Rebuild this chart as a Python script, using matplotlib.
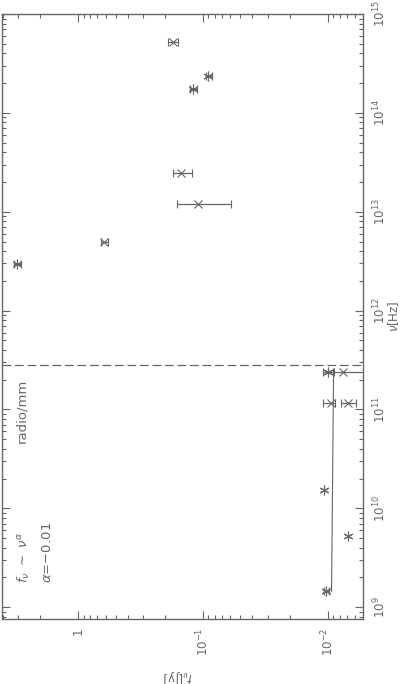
import matplotlib
matplotlib.use("Agg")
import matplotlib.pyplot as plt
from matplotlib.ticker import NullFormatter

# SED data: frequency [Hz] and flux density [Jy]
# points drawn with an "x" symbol (with flux errors)
nu_cross = [5.2e14, 2.45e13, 1.2e13, 5.0e12, 2.37e11, 1.17e11, 1.17e11]
flux_cross = [0.174, 0.150, 0.110, 0.62, 0.00759, 0.00946, 0.00692]
flux_cross_hi = [0.190, 0.174, 0.161, 0.655, 0.00895, 0.01096, 0.00787]
flux_cross_lo = [0.158, 0.1225, 0.0597, 0.575, 0.004, 0.00879, 0.00597]

# points drawn with an asterisk (with flux errors)
nu_star = [2.37e14, 1.75e14, 2.99e12, 2.37e11, 1.45e9]
flux_star = [0.091, 0.120, 3.08, 0.0100, 0.0102]
flux_star_hi = [0.0946, 0.127, 3.25, 0.01096, 0.0106]
flux_star_lo = [0.0847, 0.112, 2.86, 0.00912, 0.0098]

# asterisks without visible errors
nu_star_noerr = [1.55e10, 5.2e9]
flux_star_noerr = [0.01076, 0.00692]

# radio power-law fit f_nu ~ nu^alpha (end points)
fit_nu = [1.45e9, 2.37e11]
fit_flux = [0.00929, 0.00895]

nu_break = 2.85e11  # radio/mm boundary

flux_ticks = [1, 0.1, 0.01]
flux_labels = ['1', r'$10^{-1}$', r'$10^{-2}$']
nu_ticks = [1e9, 1e10, 1e11, 1e12, 1e13, 1e14, 1e15]
nu_labels = [r'$10^{9}$', r'$10^{10}$', r'$10^{11}$', r'$10^{12}$',
             r'$10^{13}$', r'$10^{14}$', r'$10^{15}$']

col = '#666666'
plt.rcParams['font.family'] = ['DejaVu Sans']
plt.rcParams['mathtext.fontset'] = 'dejavusans'

fig = plt.figure(figsize=(4.02, 6.84), dpi=100)
ax = fig.add_axes([0.005, 0.095, 0.898, 0.8845])

# error bars + markers (plot is rotated: flux horizontal, frequency vertical)
xerr = [[f - lo for f, lo in zip(flux_cross, flux_cross_lo)],
        [hi - f for f, hi in zip(flux_cross, flux_cross_hi)]]
ax.errorbar(flux_cross, nu_cross, xerr=xerr, fmt='x', color=col, ms=6,
            mew=0.8, elinewidth=0.9, capsize=2.8, capthick=0.9)

xerr = [[f - lo for f, lo in zip(flux_star, flux_star_lo)],
        [hi - f for f, hi in zip(flux_star, flux_star_hi)]]
ax.errorbar(flux_star, nu_star, xerr=xerr, fmt='none', ecolor=col,
            elinewidth=0.9, capsize=2.8, capthick=0.9)
ax.plot(flux_star, nu_star, ls='none', marker=(6, 2, 0), ms=7, mew=0.8,
        color=col)
ax.plot(flux_star_noerr, nu_star_noerr, ls='none', marker=(6, 2, 0), ms=7,
        mew=0.8, color=col)

ax.plot(fit_flux, fit_nu, color=col, lw=0.8)
ax.axhline(nu_break, color=col, lw=0.9, ls=(0, (7, 3)))

ax.set_xscale('log')
ax.set_yscale('log')
ax.set_xlim(4.06, 5.2e-3)
ax.set_ylim(7.6e8, 1e15)

ax.set_xticks(flux_ticks, flux_labels, rotation=90, fontsize=8.5, color=col)
ax.set_yticks(nu_ticks, nu_labels, rotation=90, fontsize=8.5, color=col,
              va='center')
ax.xaxis.set_minor_formatter(NullFormatter())
ax.yaxis.set_minor_formatter(NullFormatter())

ax.tick_params(which='both', direction='in', top=True, bottom=True,
               left=True, right=True, labelleft=False, labelright=True,
               color=col, width=0.8)
ax.tick_params(which='major', length=6, pad=6)
ax.tick_params(which='minor', length=3)
for s in ax.spines.values():
    s.set_color(col)
    s.set_linewidth(1.0)

# axis titles (rotated like the rest of the figure)
fig.text(178 / 402, 1 - 677 / 684, r'$f_\nu$[Jy]', rotation=180,
         ha='center', va='center', fontsize=8.5, color=col)
fig.text(394 / 402, 1 - 316 / 684, r'$\nu$[Hz]', rotation=90,
         ha='center', va='center', fontsize=8.5, color=col)

ax.text(0.055, 0.291, 'radio/mm', transform=ax.transAxes, rotation=90,
        ha='center', va='bottom', fontsize=9.5, color=col)
ax.text(0.061, 0.0595, r'$f_\nu\ \sim\ \nu^\alpha$', transform=ax.transAxes,
        rotation=90, ha='center', va='bottom', fontsize=9.5, color=col)
ax.text(0.127, 0.0595, r'$\alpha$=$-$0.01', transform=ax.transAxes,
        rotation=90, ha='center', va='bottom', fontsize=9.5, color=col)

fig.savefig('out.png', dpi=100)
